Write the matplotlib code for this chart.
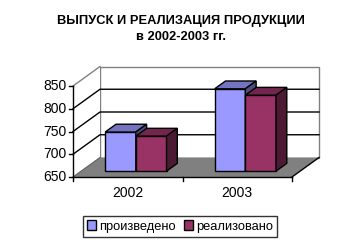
import matplotlib
matplotlib.use("Agg")
import matplotlib.pyplot as plt
from matplotlib.patches import Polygon

plt.rcParams['font.family'] = ['Liberation Sans', 'DejaVu Sans']

categories = ["2002", "2003"]
series_names = ["произведено", "реализовано"]
produced = [736, 831]
realized = [727, 817]
yticks = [650, 700, 750, 800, 850]
title1 = "ВЫПУСК И РЕАЛИЗАЦИЯ ПРОДУКЦИИ"
title2 = "в 2002-2003 гг."

front_cols = ["#9999FF", "#993366"]
top_cols = ["#7373BF", "#73264D"]
side_cols = ["#4D4D80", "#4D1A33"]

W, H = 363, 248
fig = plt.figure(figsize=(W / 100, H / 100), dpi=100)
fig.patch.set_facecolor("white")

# axes = front plane
left_px, right_px, top_px, bot_px = 73, 292, 86, 177
ax = fig.add_axes([left_px / W, 1 - bot_px / H, (right_px - left_px) / W, (bot_px - top_px) / H])
ymin, ymax = yticks[0], yticks[-1]
n = len(categories)
ax.set_xlim(0, n)
ax.set_ylim(ymin, ymax)
ax.axis("off")

# oblique depth offsets (data units)
DX = 27 / (right_px - left_px) * n
DY = 19.5 / (bot_px - top_px) * (ymax - ymin)

kw = dict(clip_on=False)
# back wall
ax.add_patch(Polygon([(DX, ymin + DY), (n + DX, ymin + DY), (n + DX, ymax + DY), (DX, ymax + DY)],
                     closed=True, facecolor="white", edgecolor="#808080", lw=1, zorder=1, **kw))
# left wall
ax.add_patch(Polygon([(0, ymin), (DX, ymin + DY), (DX, ymax + DY), (0, ymax)],
                     closed=True, facecolor="white", edgecolor="none", lw=1, zorder=1, **kw))
ax.plot([0, DX], [ymax, ymax + DY], color="#808080", lw=1, zorder=2, **kw)
# gridlines
for t in yticks[1:-1]:
    ax.plot([0, DX, n + DX], [t, t + DY, t + DY], color="black", lw=1, zorder=2, **kw)
# floor
ax.add_patch(Polygon([(0, ymin), (n, ymin), (n + DX, ymin + DY), (DX, ymin + DY)],
                     closed=True, facecolor="#808080", edgecolor="none", zorder=3, **kw))
ax.plot([0, DX], [ymin, ymin + DY], color="#606060", lw=0.8, zorder=3, **kw)
ax.plot([n, n + DX], [ymin, ymin + DY], color="black", lw=1, zorder=4, **kw)
# axes lines
ax.plot([0, 0], [ymin, ymax], color="black", lw=1, zorder=4, **kw)
ax.plot([0, n], [ymin, ymin], color="black", lw=1, zorder=4, **kw)

ax.set_yticks(yticks)
ax.set_xticks(range(n + 1))

# tick marks and labels
tick_dx = 4 / (right_px - left_px) * n
tick_dy = 4 / (bot_px - top_px) * (ymax - ymin)
for t in yticks:
    ax.plot([-tick_dx, 0], [t, t], color="black", lw=1, zorder=4, **kw)
    ax.text(-tick_dx - 0.02, t, str(t), ha="right", va="center", fontsize=10, **kw)
for i in range(n + 1):
    ax.plot([i, i], [ymin, ymin - tick_dy], color="black", lw=1, zorder=4, **kw)
for i, c in enumerate(categories):
    ax.text(i + 0.5, ymin - 2.2 * tick_dy, c, ha="center", va="top", fontsize=10, **kw)

# bars
bw = 0.28
d0, d1 = 0.3, 0.7
ddx, ddy = DX * (d1 - d0), DY * (d1 - d0)
series = [produced, realized]
z = 5
for i in range(n):
    for s, vals in enumerate(series):
        v = vals[i]
        xl = i + 0.5 - bw + s * bw + DX * d0
        xr = xl + bw
        b = ymin + DY * d0
        top = v + DY * d0
        ax.bar(xl, v - ymin, bottom=b, width=bw, align="edge", color=front_cols[s],
               edgecolor="black", lw=1, zorder=z, clip_on=False,
               label=series_names[s] if i == 0 else None)
        ax.add_patch(Polygon([(xl, top), (xr, top), (xr + ddx, top + ddy), (xl + ddx, top + ddy)],
                             closed=True, facecolor=top_cols[s], edgecolor="black", lw=1, zorder=z, **kw))
        ax.add_patch(Polygon([(xr, b), (xr, top), (xr + ddx, top + ddy), (xr + ddx, b + ddy)],
                             closed=True, facecolor=side_cols[s], edgecolor="black", lw=1, zorder=z, **kw))
        z += 1

fig.text(181 / W, 1 - 21 / H, title1, ha="center", va="center", fontsize=9.3, fontweight="bold")
fig.text(181 / W, 1 - 37 / H, title2, ha="center", va="center", fontsize=9.3, fontweight="bold")

leg = fig.legend(loc="center", bbox_to_anchor=(180 / W, 1 - 226.5 / H), ncol=2, fontsize=9.3,
                 frameon=True, fancybox=False, handlelength=0.7, handleheight=0.7,
                 handletextpad=0.25, columnspacing=0.6, borderpad=0.35, borderaxespad=0)
leg.get_frame().set_edgecolor("black")
leg.get_frame().set_linewidth(1)

fig.savefig("out.png", dpi=100)
